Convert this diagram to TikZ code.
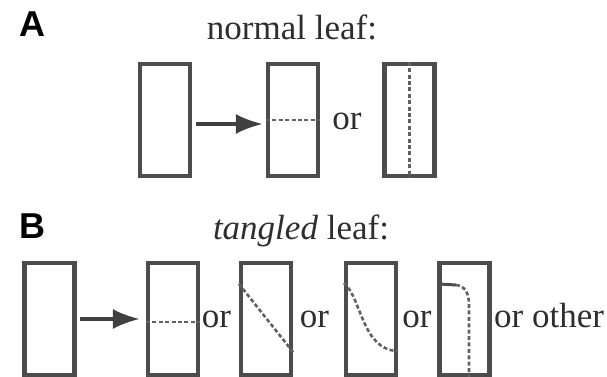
\documentclass[tikz,border=0pt]{standalone}
\usepackage{fontspec}
\setmainfont{Liberation Serif}
\setsansfont{Liberation Sans}
\usetikzlibrary{arrows.meta}

\begin{document}
\begin{tikzpicture}[x=1pt,y=1pt,
    leafbox/.style={draw=black!70, line width=4.2pt, minimum width=50pt, minimum height=112pt, inner sep=0pt},
    cutline/.style={draw=black!62, line width=2.6pt, dash pattern=on 4pt off 2.4pt},
    growth/.style={draw=black!75, line width=3.6pt, -{Latex[length=27pt,width=20pt]}},
    label/.style={font=\sffamily\bfseries\fontsize{36}{40}\selectfont, inner sep=0pt},
    words/.style={font=\fontsize{35}{40}\selectfont, text=black!82, inner sep=0pt}]
            \useasboundingbox (0,0) rectangle (607,377);

            % A: normal leaf
            \node[label] (labA) at (32,353) {A};
            \node[words, anchor=base] (titleA) at (292,337) {normal leaf:};
            \node[leafbox] (a1) at (165,257) {};
            \node[leafbox] (a2) at (293,257) {};
            \node[leafbox] (a3) at (409.5,257) {};
            \node[words, anchor=base] (orA) at (347,247) {or};
            \draw[growth, shorten <=4pt, shorten >=3pt] ([yshift=-4pt]a1.east) -- ([yshift=-4pt]a2.west);
            \draw[cutline] (a2.west) -- (a2.east);
            \draw[cutline] (a3.north) -- (a3.south);

            % B: tangled leaf
            \node[label] (labB) at (32,151) {B};
            \node[words, anchor=base] (titleB) at (301,137) {\textit{tangled} leaf:};
            \node[leafbox] (b1) at (49.5,58) {};
            \node[leafbox] (b2) at (173,58) {};
            \node[leafbox] (b3) at (266,58) {};
            \node[leafbox] (b4) at (371,58) {};
            \node[leafbox] (b5) at (464.5,58) {};
            \node[words, anchor=base] (orB1) at (216.5,49) {or};
            \node[words, anchor=base] (orB2) at (314.5,49) {or};
            \node[words, anchor=base] (orB3) at (417,49) {or};
            \node[words, anchor=base west] (orB4) at (494,49) {or other};
            \draw[growth, shorten <=3pt, shorten >=6pt] (b1) -- (b2);
            \draw[cutline] ([yshift=-3pt]b2.west) -- ([yshift=-3pt]b2.east);
            \draw[cutline] ([yshift=-23pt]b3.north west) -- ([yshift=25pt]b3.south east);
            \draw[cutline] ([yshift=-22pt]b4.north west) .. controls (362,78) and (362,27) .. ([yshift=26pt]b4.south east);
            \draw[draw=black!70, line width=3pt] ([yshift=-23pt]b5.north west) -- (456,92);
            \draw[cutline] (456,92) .. controls (465,91) and (469,84) .. (469,72) -- (469,0 |- b5.south);
\end{tikzpicture}
\end{document}
